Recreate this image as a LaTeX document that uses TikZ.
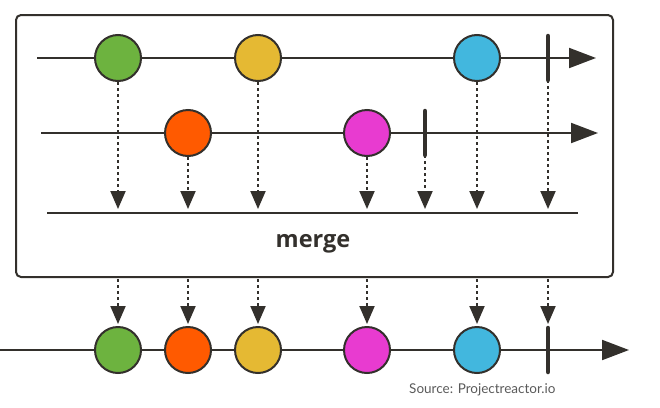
\documentclass[tikz,border=0pt]{standalone}
\usepackage{fontspec}
\setmainfont{Open Sans}
\newfontfamily\latofont{Lato}
\usetikzlibrary{arrows.meta}
\definecolor{ink}{HTML}{33302C}
\definecolor{cgreen}{HTML}{6DB33F}
\definecolor{corange}{HTML}{FF5A00}
\definecolor{cyellow}{HTML}{E5B933}
\definecolor{cmagenta}{HTML}{E83BD0}
\definecolor{cblue}{HTML}{42B7DE}
\definecolor{srcgray}{HTML}{5A5A5A}
\tikzset{
  marble/.style={circle, draw=ink, line width=2pt, minimum size=46pt, inner sep=0pt},
  timeline/.style={draw=ink, line width=2pt, -{Triangle[length=27pt,width=20pt]}},
  plainline/.style={draw=ink, line width=2pt},
  termbar/.style={draw=ink, line width=4.5pt, line cap=round},
  dropline/.style={draw=ink, line width=2pt, dash pattern=on 3pt off 3pt, -{Triangle[length=18pt,width=15pt]}},
}
\begin{document}
\begin{tikzpicture}[x=1pt,y=-1pt]
\useasboundingbox (0,0) rectangle (660,407);
\fill[white] (0,0) rectangle (660,407);
% merge box
\draw[ink, line width=2pt, rounded corners=5pt] (16,15) rectangle (613,277);

% line 1
\coordinate (l1s) at (37,58);
\coordinate (l1e) at (596,58);
\draw[timeline] (l1s) -- (l1e);
\node[marble, fill=cgreen] (g1) at (118,58) {};
\node[marble, fill=cyellow] (y1) at (258,58) {};
\node[marble, fill=cblue] (b1) at (477,58) {};
\coordinate (t1a) at (548,36);
\coordinate (t1b) at (548,80);
\draw[termbar] (t1a) -- (t1b);

% line 2
\coordinate (l2s) at (41,133);
\coordinate (l2e) at (598,133);
\draw[timeline] (l2s) -- (l2e);
\node[marble, fill=corange] (o2) at (188,133) {};
\node[marble, fill=cmagenta] (m2) at (367,133) {};
\coordinate (t2a) at (425,111);
\coordinate (t2b) at (425,155);
\draw[termbar] (t2a) -- (t2b);

% merge line
\coordinate (ms) at (47,213);
\coordinate (me) at (578,213);
\draw[plainline] (ms) -- (me);
\node[font=\bfseries, text=ink, inner sep=0pt] (mlabel) at (313,244) {\fontsize{23.5}{28}\selectfont merge};

% drop targets on merge line
\coordinate (d1) at (118,209);
\coordinate (d2) at (188,209);
\coordinate (d3) at (258,209);
\coordinate (d4) at (367,209);
\coordinate (d5) at (425,209);
\coordinate (d6) at (477,209);
\coordinate (d7) at (548,209);
\draw[dropline] (g1.south) -- (d1);
\draw[dropline] (o2.south) -- (d2);
\draw[dropline] (y1.south) -- (d3);
\draw[dropline] (m2.south) -- (d4);
\draw[dropline] (t2b) -- (d5);
\draw[dropline] (b1.south) -- (d6);
\draw[dropline] (t1b) -- (d7);

% output line
\coordinate (l3s) at (0,350);
\coordinate (l3e) at (629,350);
\draw[timeline] (l3s) -- (l3e);
\node[marble, fill=cgreen] (g3) at (118,350) {};
\node[marble, fill=corange] (o3) at (188,350) {};
\node[marble, fill=cyellow] (y3) at (258,350) {};
\node[marble, fill=cmagenta] (m3) at (367,350) {};
\node[marble, fill=cblue] (b3) at (477,350) {};
\coordinate (t3a) at (548,328);
\coordinate (t3b) at (548,372);
\draw[termbar] (t3a) -- (t3b);

% drops from box to output
\foreach \x/\n in {118/a,188/b,258/c,367/d,477/e,548/f}{
  \coordinate (s\n) at (\x,279);
  \coordinate (e\n) at (\x,324);
  \draw[dropline] (s\n) -- (e\n);
}

\node[anchor=west, text=srcgray, inner sep=0pt] (src) at (409,390) {\latofont\fontsize{13.5}{16}\selectfont Source: Projectreactor.io};
\end{tikzpicture}
\end{document}
